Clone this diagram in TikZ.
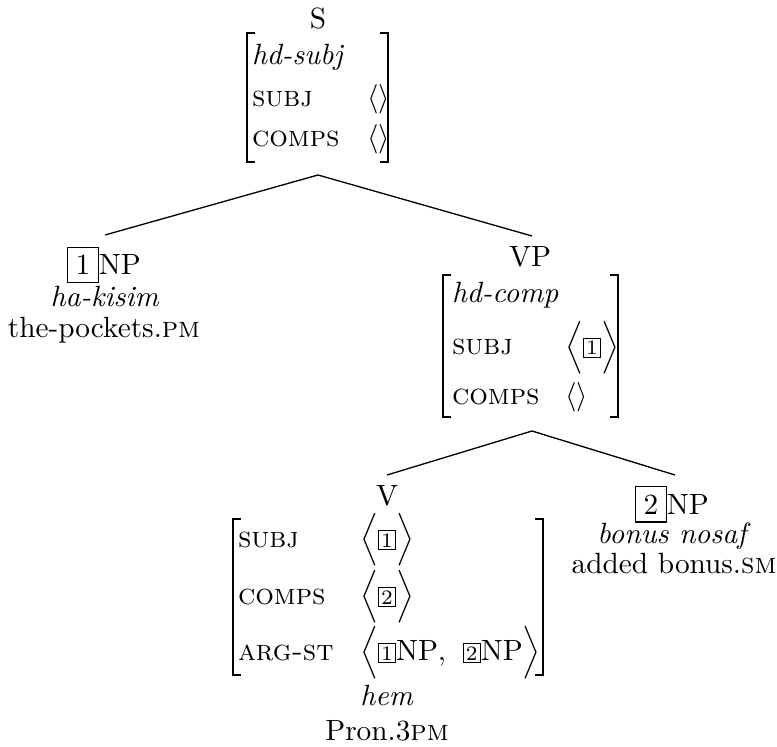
\documentclass[tikz,border=0pt]{standalone}
\newcommand{\tg}[1]{{\setlength{\fboxsep}{0.7pt}\setlength{\fboxrule}{0.4pt}\fbox{\scriptsize #1}}}
\newcommand{\bigtg}[1]{{\setlength{\fboxsep}{2.5pt}\setlength{\fboxrule}{0.4pt}\fbox{#1}}}
\tikzset{
  txt/.style={inner sep=0pt, outer sep=0pt, anchor=base},
  att/.style={inner sep=0pt, outer sep=0pt, anchor=base west},
  edge/.style={line width=0.45pt},
  brk/.style={line width=0.5pt}
}
\begin{document}
\begin{tikzpicture}[x=0.3413pt,y=-0.3413pt]
\useasboundingbox (0,0) rectangle (777,746);
% ---------- S ----------
\node[txt] (S) at (318,29) {S};
\node[att] (s1) at (252,65) {\textit{hd-subj}};
\node[att] (s2) at (252,107) {\textsc{subj}};
\node[att] (s3) at (252,147) {\textsc{comps}};
\node[att] (s2v) at (367,107) {$\langle\rangle$};
\node[att] (s3v) at (367,147) {$\langle\rangle$};
\draw[brk] (255,33) -- (247,33) -- (247,162) -- (255,162);
\draw[brk] (380,33) -- (388,33) -- (388,162) -- (380,162);
\coordinate (Sfoot) at (318,175);
% ---------- NP 1 ----------
\node[txt] (np1) at (104,275) {\bigtg{1}NP};
\node[txt] (np1w) at (105,307) {\textit{ha-kisim}};
\node[txt] (np1g) at (104,338) {the-pockets.\textsc{pm}};
\coordinate (NP1top) at (105,235);
% ---------- VP ----------
\node[txt] (VP) at (530,267) {VP};
\node[att] (v1) at (452,303) {\textit{hd-comp}};
\node[att] (v2) at (452,355) {\textsc{subj}};
\node[att] (v3) at (452,405) {\textsc{comps}};
\node[att] (v2v) at (565,355) {$\Big\langle\tg{1}\Big\rangle$};
\node[att] (v3v) at (565,405) {$\langle\rangle$};
\draw[brk] (451,275) -- (443,275) -- (443,417) -- (451,417);
\draw[brk] (610,275) -- (618,275) -- (618,417) -- (610,417);
\coordinate (VPtop) at (532,236);
\coordinate (VPfoot) at (532,431);
% ---------- V ----------
\node[txt] (V) at (387,505) {V};
\node[att] (w1) at (238,547) {\textsc{subj}};
\node[att] (w2) at (238,604) {\textsc{comps}};
\node[att] (w3) at (238,660) {\textsc{arg-st}};
\node[att] (w1v) at (360,547) {$\Big\langle\tg{1}\Big\rangle$};
\node[att] (w2v) at (360,604) {$\Big\langle\tg{2}\Big\rangle$};
\node[att] (w3v) at (360,660) {$\Big\langle\tg{1}\mathrm{NP},\hspace{4pt}\tg{2}\mathrm{NP}\Big\rangle$};
\draw[brk] (241,519) -- (233,519) -- (233,675) -- (241,675);
\draw[brk] (535,519) -- (543,519) -- (543,675) -- (535,675);
\node[txt] (vw) at (387,705) {\textit{hem}};
\node[txt] (vg) at (387,740) {Pron.3\textsc{pm}};
\coordinate (Vtop) at (387,475);
% ---------- NP 2 ----------
\node[txt] (np2) at (672,514) {\bigtg{2}NP};
\node[txt] (np2w) at (674,543) {\textit{bonus nosaf}};
\node[txt] (np2g) at (674,573) {added bonus.\textsc{sm}};
\coordinate (NP2top) at (675,475);
% ---------- edges ----------
\draw[edge] (Sfoot) -- (NP1top);
\draw[edge] (Sfoot) -- (VPtop);
\draw[edge] (VPfoot) -- (Vtop);
\draw[edge] (VPfoot) -- (NP2top);
\end{tikzpicture}
\end{document}
